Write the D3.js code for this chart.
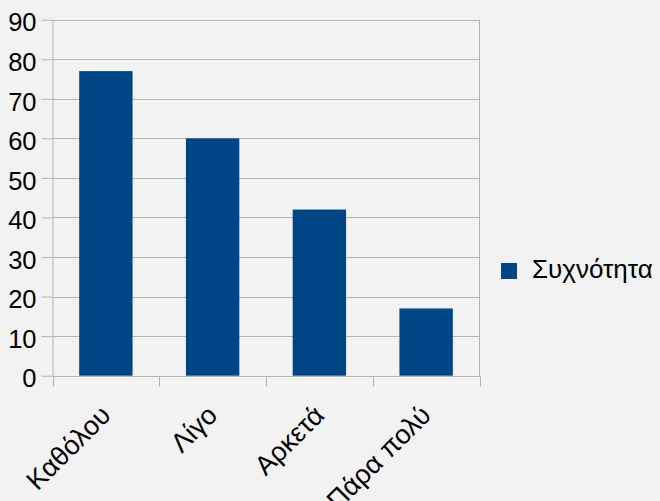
<!DOCTYPE html>
<html>
<head>
<meta charset="utf-8">
<script src="https://cdn.jsdelivr.net/npm/d3@7"></script>
<style>
  html, body { margin: 0; padding: 0; background: #f2f2f2; }
  svg { display: block; }
  text { font-family: "Liberation Sans", Arial, sans-serif; fill: #000; }
</style>
</head>
<body>
<script>
// Response categories and their frequencies
const categories = ["Καθόλου", "Λίγο", "Αρκετά", "Πάρα πολύ"];
const values = [77, 60, 42, 17];
const seriesName = "Συχνότητα";
const yTicks = [0, 10, 20, 30, 40, 50, 60, 70, 80, 90];

const W = 660, H = 501;
const plot = { left: 52.5, right: 479.5, top: 19.7, bottom: 375.7 };
const barColor = "#004586";
const gridColor = "#b3b3b3";

const svg = d3.select("body").append("svg")
  .attr("width", W).attr("height", H);

svg.append("rect").attr("width", W).attr("height", H).attr("fill", "#f2f2f2");

const x = d3.scaleBand()
  .domain(categories)
  .range([plot.left, plot.right])
  .paddingInner(0.5)
  .paddingOuter(0.25);

const xTickScale = d3.scaleLinear()
  .domain([0, categories.length])
  .range([plot.left, plot.right]);

const y = d3.scaleLinear()
  .domain([0, 90])
  .range([plot.bottom, plot.top]);

// Horizontal gridlines
svg.append("g")
  .selectAll("line")
  .data(yTicks)
  .join("line")
  .attr("x1", plot.left).attr("x2", plot.right)
  .attr("y1", d => Math.round(y(d)) + 0.5).attr("y2", d => Math.round(y(d)) + 0.5)
  .attr("stroke", gridColor).attr("stroke-width", 1);

// Right border of the plot area
svg.append("line")
  .attr("x1", plot.right).attr("x2", plot.right)
  .attr("y1", y(90)).attr("y2", plot.bottom)
  .attr("stroke", gridColor);

// Bars
svg.append("g")
  .selectAll("rect")
  .data(values)
  .join("rect")
  .attr("x", (d, i) => x(categories[i]))
  .attr("width", x.bandwidth())
  .attr("y", d => y(d))
  .attr("height", d => y(0) - y(d))
  .attr("fill", barColor);

// Y axis
const yAxis = svg.append("g")
  .attr("transform", `translate(${plot.left},0)`)
  .call(d3.axisLeft(y).tickValues(yTicks).tickSize(11).tickPadding(5).tickFormat(d3.format("d")));
yAxis.selectAll("line, path").attr("stroke", gridColor);
yAxis.select(".domain").attr("d", `M0.5,${plot.top}V${plot.bottom}`);
yAxis.selectAll("text")
  .style("font-size", "25.5px")
  .attr("dy", "0.44em");

// X axis: ticks sit on category boundaries
const xAxis = svg.append("g")
  .attr("transform", `translate(0,${Math.round(plot.bottom) + 0.5})`);
xAxis.append("line")
  .attr("x1", plot.left).attr("x2", plot.right)
  .attr("stroke", gridColor);
xAxis.selectAll("line.tick")
  .data(d3.range(categories.length + 1))
  .join("line")
  .attr("class", "tick")
  .attr("x1", d => Math.round(xTickScale(d)) + 0.5)
  .attr("x2", d => Math.round(xTickScale(d)) + 0.5)
  .attr("y1", 0).attr("y2", 10)
  .attr("stroke", gridColor);

xAxis.selectAll("text")
  .data(categories)
  .join("text")
  .attr("transform", d => `translate(${x(d) + x.bandwidth() / 2 - 7},${27}) rotate(-45)`)
  .attr("text-anchor", "end")
  .attr("dy", "0.7em")
  .style("font-size", "27px")
  .text(d => d);

// Legend
const legend = svg.append("g").attr("transform", "translate(501,263)");
legend.append("rect")
  .attr("width", 16).attr("height", 16)
  .attr("fill", barColor);
legend.append("text")
  .attr("x", 31).attr("y", 15)
  .style("font-size", "26px")
  .text(seriesName);
</script>
</body>
</html>
